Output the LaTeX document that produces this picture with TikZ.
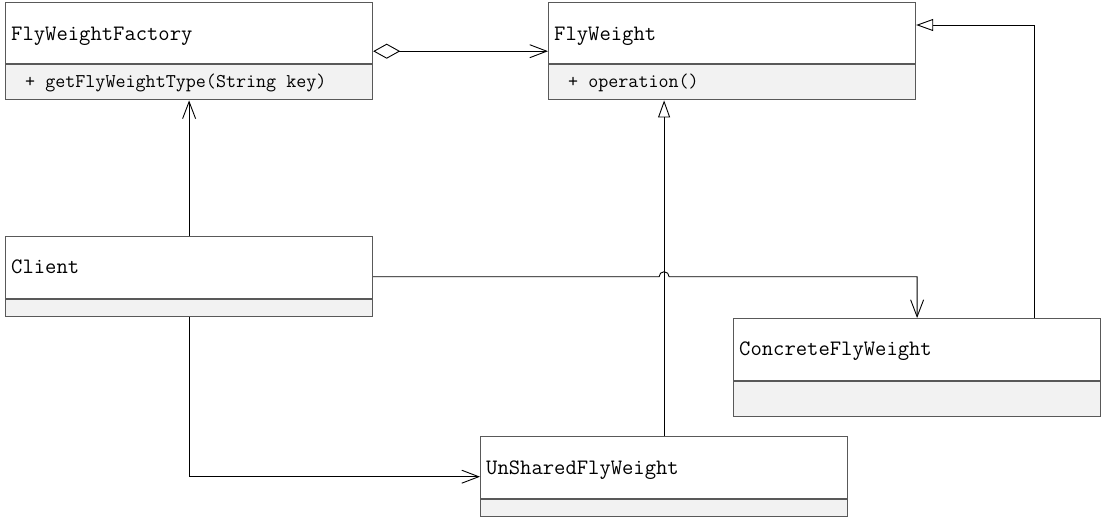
\documentclass[tikz,border=0pt]{standalone}
\usetikzlibrary{arrows.meta,calc}
\begin{document}
\begin{tikzpicture}[x=1pt,y=1pt,
  namebox/.style={draw=black!65, line width=1.2pt, fill=white, anchor=north west, minimum width=367pt, minimum height=#1, inner sep=0pt},
  opsbox/.style={draw=black!65, line width=1.2pt, fill=black!5, anchor=north west, minimum width=367pt, minimum height=#1, inner sep=0pt},
  cname/.style={anchor=base west, font=\fontsize{22}{23}\ttfamily, inner sep=0pt},
  cop/.style={anchor=base west, font=\fontsize{19.5}{20}\ttfamily, inner sep=0pt},
  conn/.style={draw=black, line width=0.9pt},
  openarrow/.style={-{Straight Barb[length=17pt,width=13pt,line width=0.9pt]}},
  genarrow/.style={-{Triangle[open,length=17pt,width=12pt,line width=0.9pt,fill=white]}},
  aggarrow/.style={{Diamond[open,length=27pt,width=15pt,line width=0.9pt,fill=white]}-{Straight Barb[length=17pt,width=13pt,line width=0.9pt]}}
]
\useasboundingbox (0,0) rectangle (1102,-517);

% FlyWeightFactory
\node[namebox=61pt] (fwf) at (5,-2) {};
\node[opsbox=35pt] (fwfops) at (fwf.south west) {};
\node[cname] (fwft) at (11,-40) {FlyWeightFactory};
\node[cop] (fwfo) at (25,-87) {+ getFlyWeightType(String key)};
\coordinate (fwfc) at ($(fwf.north)!0.5!(fwfops.south)$);

% FlyWeight
\node[namebox=61pt] (fw) at (548,-2) {};
\node[opsbox=35pt] (fwops) at (fw.south west) {};
\node[cname] (fwt) at (554,-40) {FlyWeight};
\node[cop] (fwo) at (568,-87) {+ operation()};

% Client
\node[namebox=62pt] (cl) at (5,-236) {};
\node[opsbox=17pt] (clops) at (cl.south west) {};
\node[cname] (clt) at (11,-273) {Client};
\coordinate (clc) at ($(cl.north)!0.5!(clops.south)$);

% ConcreteFlyWeight
\node[namebox=62pt] (cfw) at (733,-318) {};
\node[opsbox=35pt] (cfwops) at (cfw.south west) {};
\node[cname] (cfwt) at (739,-355) {ConcreteFlyWeight};

% UnSharedFlyWeight
\node[namebox=62pt] (ufw) at (480,-436) {};
\node[opsbox=17pt] (ufwops) at (ufw.south west) {};
\node[cname] (ufwt) at (486,-474) {UnSharedFlyWeight};
\coordinate (ufwc) at ($(ufw.north)!0.5!(ufwops.south)$);

% helper coordinates
\coordinate (cfwup) at ($(cfw.north west)!0.82!(cfw.north east)$);
\coordinate (fwr) at ($(fw.north east)+(0,-23)$);
\coordinate (hop) at (ufw.north |- clc);

% connectors
\draw[conn,aggarrow] (fwfc -| fwf.east) -- (fwfc -| fw.west);
\draw[conn,openarrow] (cl.north) -- (fwfops.south);
\draw[conn,genarrow] (ufw.north) -- (fwops.south -| ufw.north);
\draw[conn,genarrow] (cfwup) |- (fwr);
\draw[conn,openarrow] (clc -| cl.east) -- ($(hop)+(-5,0)$) arc[start angle=180,end angle=0,radius=5] -- (clc -| cfw.north) -- (cfw.north);
\draw[conn,openarrow] (clops.south) |- (ufw.west |- ufwc);
\end{tikzpicture}
\end{document}
